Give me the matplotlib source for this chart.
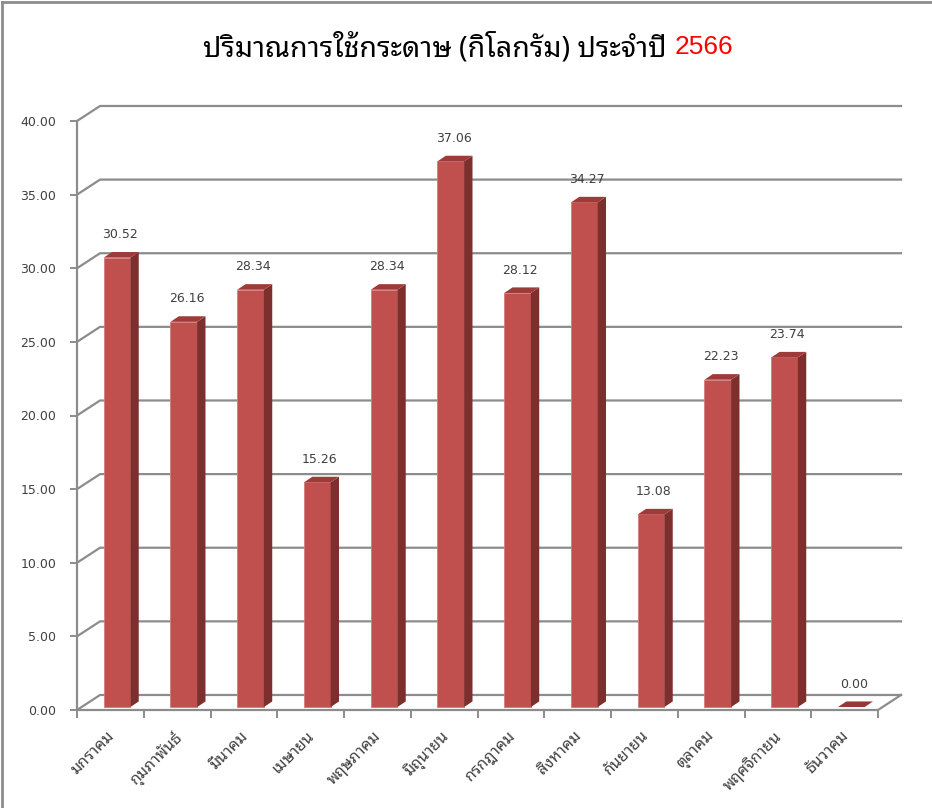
import matplotlib
matplotlib.use("Agg")
import matplotlib.pyplot as plt
from matplotlib.patches import Polygon
from matplotlib.lines import Line2D

months = ["มกราคม", "กุมภาพันธ์", "มีนาคม", "เมษายน", "พฤษภาคม", "มิถุนายน",
          "กรกฎาคม", "สิงหาคม", "กันยายน", "ตุลาคม", "พฤศจิกายน", "ธันวาคม"]
values = [30.52, 26.16, 28.34, 15.26, 28.34, 37.06, 28.12, 34.27, 13.08, 22.23, 23.74, 0.00]
yticks = [0, 5, 10, 15, 20, 25, 30, 35, 40]

title_main = "ปริมาณการใช้กระดาษ (กิโลกรัม) ประจำปี "
title_year = "2566"

THAI = ["Noto Sans Thai Looped", "DejaVu Sans"]
plt.rcParams["font.family"] = ["DejaVu Sans"]

W, H = 932, 808
fig = plt.figure(figsize=(W / 100, H / 100), dpi=100)
ax = fig.add_axes([77 / W, (H - 710) / H, 801 / W, 589 / H])
ax.set_xlim(0, 12)
ax.set_ylim(0, 40)
for s in ax.spines.values():
    s.set_visible(False)

grid_c = "#8c8c8c"
dx, dy = 0.345, 1.02   # depth of back wall (data units)

# back wall gridlines + diagonals
for v in yticks:
    ax.add_line(Line2D([0, dx, 12 + dx], [v, v + dy, v + dy], color=grid_c, lw=1.6,
                       clip_on=False, zorder=1))
# floor + left axis
ax.add_line(Line2D([0, 12, 12 + dx], [0, 0, dy], color=grid_c, lw=1.6, clip_on=False, zorder=1))
ax.add_line(Line2D([0, 0], [0, 40], color=grid_c, lw=1.6, clip_on=False, zorder=1))

# bars with fake 3d
b0 = 0.2
bx0, bx1 = 0.40, 0.80
sdx, sdy = 0.125, 0.38
for i, v in enumerate(values):
    x0, x1 = i + bx0, i + bx1
    top = b0 + v
    if v > 0:
        ax.add_patch(Polygon([(x0, b0), (x1, b0), (x1, top), (x0, top)], closed=True,
                             fc="#C0504D", ec="#D27C79", lw=0.6, zorder=3))
        ax.add_patch(Polygon([(x1, b0), (x1 + sdx, b0 + sdy), (x1 + sdx, top + sdy), (x1, top)],
                             closed=True, fc="#7D2F2D", ec="none", zorder=3))
    ax.add_patch(Polygon([(x0, top), (x1, top), (x1 + sdx, top + sdy), (x0 + sdx, top + sdy)],
                         closed=True, fc="#9E3B38" if v > 0 else "#953735", ec="none", zorder=3))
    ax.annotate(f"{v:.2f}", (i + 0.64, top), xytext=(0, 16.5), textcoords="offset points",
                ha="center", va="center", fontsize=9, color="#404040", zorder=4)

ax.set_yticks(yticks)
ax.set_yticklabels([f"{t:.2f}" for t in yticks])
ax.set_xticks(range(13))
ax.set_xticklabels([])
ax.tick_params(axis="y", length=5, width=1.4, color=grid_c, labelsize=9,
               labelcolor="#404040", pad=10)
ax.tick_params(axis="x", length=6, width=1.4, color=grid_c)

for i, m in enumerate(months):
    ax.annotate(m, (i + 0.5, 0), xytext=(-3, -13), textcoords="offset points",
                ha="right", va="top", rotation=45, rotation_mode="anchor",
                fontsize=11.5, color="#404040", family=THAI)

# title in two colours
t1 = fig.text(0, 1 - 45 / H, title_main, fontsize=20.5, fontweight="bold", va="center_baseline",
              color="black", family=THAI)
t2 = fig.text(0, 1 - 45 / H, title_year, fontsize=19, va="center_baseline",
              color="red", family=["Liberation Sans"])
fig.canvas.draw()
r = fig.canvas.get_renderer()
w1 = t1.get_window_extent(r).width
w2 = t2.get_window_extent(r).width
start = 468 - (w1 + w2) / 2
t1.set_x(start / W)
t2.set_x((start + w1) / W)

# outer frame
fig.add_artist(Line2D([2 / W, 2 / W], [0, 1 - 2 / H], color="#8c8c8c", lw=2))
fig.add_artist(Line2D([2 / W, 1], [1 - 2 / H, 1 - 2 / H], color="#8c8c8c", lw=2))

fig.savefig("out.png", dpi=100)
